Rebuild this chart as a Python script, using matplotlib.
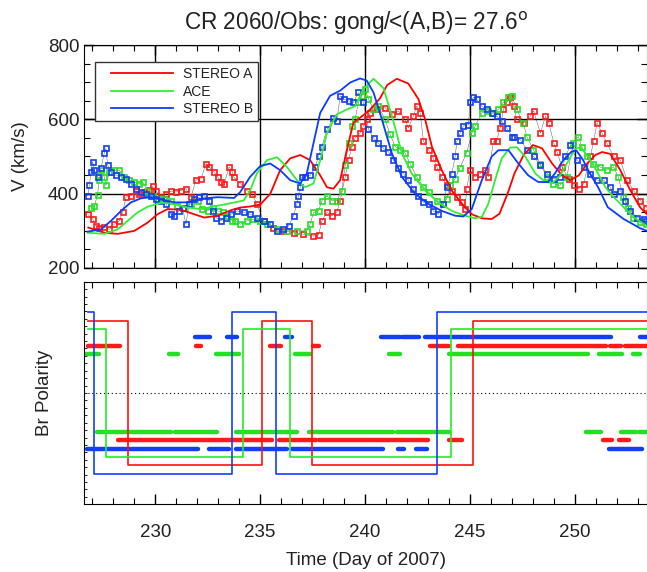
import matplotlib
matplotlib.use("Agg")
import matplotlib.pyplot as plt
from matplotlib.lines import Line2D
from matplotlib.legend_handler import HandlerLine2D
from matplotlib.ticker import MultipleLocator, NullLocator

plt.rcParams['font.family'] = ['Liberation Sans', 'DejaVu Sans']

# ---- top panel: observed solar wind speed (day of 2007, km/s) ----
sta_obs_day = [226.78, 227.02, 227.18, 227.33, 227.57, 227.81, 228.05, 228.29, 228.44, 228.61,
               228.84, 229.08, 229.24, 229.48, 229.72, 229.87, 230.03, 230.27, 230.51, 230.75,
               230.99, 231.22, 231.46, 231.70, 231.94, 232.18, 232.42, 232.57, 232.81, 232.97,
               233.13, 233.29, 233.52, 233.68, 233.73, 234.05, 234.37, 234.61, 234.84, 235.16,
               235.63, 236.11, 236.59, 237.06, 237.54, 237.78, 237.94, 238.18, 238.42, 238.65,
               238.81, 239.05, 239.21, 239.37, 239.52, 239.76, 239.92, 240.08, 240.24, 240.56,
               240.95, 241.27, 241.59, 241.91, 242.06, 242.30, 242.46, 242.62, 242.78, 243.02,
               243.25, 243.41, 243.65, 243.89, 244.13, 244.37, 244.61, 244.76, 244.84, 245.00,
               245.24, 245.48, 245.71, 245.87, 246.11, 246.27, 246.43, 246.59, 246.75, 246.91,
               247.08, 247.22, 247.56, 247.87, 248.03, 248.35, 248.59, 248.75, 248.99, 249.14,
               249.38, 249.70, 249.94, 250.18, 250.41, 250.73, 250.89, 251.05, 251.29, 251.52,
               251.84, 252.16, 252.48, 252.80, 253.11, 253.40]
sta_obs_v = [344, 331, 312, 308, 310, 303, 317, 326, 349, 390,
             394, 408, 399, 404, 410, 419, 408, 390, 399, 406,
             404, 408, 413, 390, 436, 440, 481, 472, 458, 445,
             431, 427, 472, 458, 445, 427, 408, 399, 372, 326,
             308, 299, 294, 290, 285, 288, 326, 349, 340, 349,
             381, 445, 490, 527, 550, 563, 582, 600, 618, 627,
             632, 614, 623, 600, 577, 609, 636, 618, 541, 518,
             495, 472, 445, 422, 408, 390, 376, 358, 413, 463,
             445, 454, 463, 445, 541, 543, 577, 627, 646, 660,
             636, 600, 591, 609, 623, 563, 609, 591, 536, 513,
             472, 440, 422, 413, 427, 500, 541, 591, 563, 536,
             500, 490, 436, 408, 381, 362]

ace_obs_day = [226.94, 227.10, 227.25, 227.33, 227.41, 227.57, 227.65, 227.81, 228.05, 228.29,
               228.52, 228.76, 229.00, 229.24, 229.40, 229.63, 229.87, 230.11, 230.43, 230.75,
               231.06, 231.38, 231.70, 232.02, 232.25, 232.49, 232.73, 232.97, 233.21, 233.44,
               233.68, 233.81, 234.05, 234.37, 234.68, 235.00, 235.32, 235.80, 236.27, 236.75,
               237.22, 237.38, 237.54, 237.78, 237.94, 238.18, 238.42, 238.65, 238.89, 239.05,
               239.21, 239.37, 239.52, 239.68, 239.84, 240.00, 240.16, 240.40, 240.63, 240.95,
               241.19, 241.43, 241.67, 241.91, 242.14, 242.46, 242.78, 243.02, 243.41, 243.73,
               243.89, 244.05, 244.29, 244.52, 244.84, 245.08, 245.24, 245.56, 245.87, 246.11,
               246.35, 246.59, 246.83, 246.99, 247.22, 247.54, 247.70, 248.02, 248.34, 248.65,
               248.97, 249.29, 249.61, 249.92, 250.16, 250.32, 250.56, 250.87, 251.19, 251.51,
               251.83, 252.06, 252.30, 252.54, 252.78, 253.10, 253.40]
ace_obs_v = [362, 367, 396, 436, 463, 445, 422, 458, 463, 463,
             445, 436, 431, 427, 431, 408, 394, 386, 386, 381,
             367, 362, 372, 381, 358, 353, 362, 353, 349, 340,
             326, 326, 317, 326, 331, 326, 317, 303, 299, 299,
             299, 317, 349, 353, 381, 394, 381, 381, 408, 477,
             536, 582, 600, 646, 664, 682, 655, 627, 636, 600,
             560, 527, 518, 509, 481, 445, 417, 404, 381, 372,
             386, 422, 440, 470, 510, 563, 582, 618, 623, 618,
             627, 646, 660, 664, 627, 591, 554, 518, 481, 445,
             427, 422, 445, 536, 554, 527, 500, 481, 472, 463,
             472, 445, 390, 362, 335, 322, 317]

stb_obs_day = [226.78, 226.86, 226.94, 227.02, 227.10, 227.25, 227.41, 227.57, 227.65, 227.73,
               227.89, 228.13, 228.37, 228.61, 228.84, 229.08, 229.32, 229.56, 229.80, 230.03,
               230.27, 230.51, 230.75, 230.91, 231.14, 231.30, 231.46, 231.62, 231.86, 232.10,
               232.33, 232.57, 232.73, 232.89, 233.13, 233.37, 233.61, 233.89, 234.21, 234.52,
               234.84, 235.16, 235.48, 235.80, 236.11, 236.35, 236.59, 236.75, 236.82, 236.91,
               236.99, 237.14, 237.38, 237.62, 237.78, 237.94, 238.18, 238.49, 238.65, 238.81,
               238.97, 239.21, 239.44, 239.68, 239.92, 240.16, 240.40, 240.63, 240.87, 241.11,
               241.35, 241.59, 241.82, 242.06, 242.30, 242.54, 242.78, 243.02, 243.25, 243.49,
               243.73, 243.89, 244.13, 244.29, 244.37, 244.52, 244.68, 244.92, 245.00, 245.16,
               245.32, 245.56, 245.79, 246.03, 246.27, 246.51, 246.75, 246.99, 247.08, 247.40,
               247.72, 248.03, 248.35, 248.67, 248.99, 249.30, 249.54, 249.78, 250.10, 250.41,
               250.73, 251.05, 251.37, 251.68, 251.84, 252.16, 252.40, 252.64, 252.96, 253.27,
               253.40]
stb_obs_v = [394, 422, 458, 486, 463, 445, 468, 509, 522, 477,
             458, 449, 445, 440, 427, 413, 404, 399, 394, 386,
             381, 372, 344, 340, 353, 362, 317, 372, 386, 390,
             394, 381, 353, 335, 326, 335, 344, 353, 349, 344,
             335, 326, 317, 299, 303, 312, 340, 372, 394, 417,
             445, 445, 449, 472, 500, 527, 573, 605, 595, 664,
             655, 650, 646, 673, 646, 573, 550, 536, 522, 513,
             490, 468, 454, 436, 413, 394, 376, 372, 353, 344,
             372, 417, 454, 500, 541, 563, 582, 586, 646, 660,
             655, 636, 627, 618, 609, 595, 577, 554, 554, 545,
             518, 500, 477, 454, 440, 445, 500, 530, 490, 472,
             454, 436, 436, 417, 399, 408, 381, 353, 335, 331,
             326]

# ---- top panel: model speed (lines) ----
sta_mod_day = [226.81, 227.57, 228.21, 229.00, 229.63, 230.11, 230.59, 231.22, 231.86, 232.33,
               232.97, 233.61, 234.05, 234.52, 235.00, 235.48, 235.95, 236.43, 236.91, 237.38,
               237.86, 238.18, 238.49, 238.81, 239.13, 239.44, 239.92, 240.24, 240.72, 241.05,
               241.51, 242.06, 242.54, 242.86, 243.18, 243.65, 244.13, 244.61, 245.08, 245.56,
               246.03, 246.40, 246.79, 247.12, 247.56, 248.00, 248.43, 248.91, 249.38, 249.78,
               250.18, 250.58, 250.97, 251.29, 251.68, 252.16, 252.64, 253.11, 253.43]
sta_mod_v = [308, 294, 291, 299, 321, 344, 358, 356, 344, 335,
             340, 355, 362, 365, 370, 399, 463, 495, 504, 490,
             449, 417, 413, 436, 518, 591, 612, 627, 658, 693,
             710, 697, 655, 600, 527, 463, 408, 372, 344, 333,
             331, 345, 400, 455, 505, 531, 522, 481, 449, 436,
             449, 481, 504, 512, 507, 463, 408, 362, 344]

ace_mod_day = [226.78, 227.57, 228.21, 228.68, 229.16, 229.63, 230.27, 230.91, 231.54, 232.18,
               232.97, 233.61, 234.21, 234.52, 234.84, 235.32, 235.80, 236.27, 236.75, 237.14,
               237.54, 237.86, 238.18, 238.65, 239.13, 239.52, 239.92, 240.40, 240.87, 241.30,
               241.75, 242.22, 242.86, 243.49, 244.13, 244.76, 245.24, 245.56, 245.87, 246.19,
               246.51, 246.91, 247.23, 247.64, 248.11, 248.59, 248.91, 249.30, 249.70, 250.02,
               250.26, 250.58, 250.97, 251.45, 251.84, 252.16, 252.80, 253.43]
ace_mod_v = [294, 291, 303, 326, 349, 364, 375, 372, 362, 358,
             367, 374, 381, 408, 454, 490, 498, 472, 436, 417,
             427, 490, 563, 614, 627, 636, 682, 710, 685, 605,
             509, 454, 408, 376, 353, 340, 333, 337, 372, 436,
             495, 524, 525, 499, 454, 431, 428, 449, 490, 522,
             525, 503, 467, 417, 390, 372, 335, 312]

stb_mod_day = [226.78, 227.41, 227.89, 228.37, 228.84, 229.32, 229.80, 230.27, 230.91, 231.54,
               232.18, 232.97, 233.76, 234.05, 234.52, 235.00, 235.48, 235.95, 236.43, 236.91,
               237.22, 237.54, 237.86, 238.33, 238.81, 239.29, 239.76, 240.08, 240.40, 240.80,
               241.27, 241.75, 242.38, 243.02, 243.65, 244.29, 244.68, 245.08, 245.56, 246.03,
               246.35, 246.83, 247.30, 247.77, 248.25, 248.72, 249.04, 249.44, 249.83, 250.07,
               250.39, 250.71, 251.10, 251.56, 252.32, 253.11, 253.43]
stb_mod_v = [297, 303, 326, 353, 376, 387, 390, 384, 376, 376,
             386, 390, 388, 404, 445, 474, 481, 463, 436, 427,
             454, 536, 618, 664, 678, 700, 711, 705, 673, 600,
             509, 445, 399, 372, 353, 340, 338, 358, 436, 500,
             517, 517, 481, 449, 431, 431, 454, 490, 513, 516,
             490, 454, 417, 363, 331, 306, 299]

# ---- bottom panel: model polarity steps (change days, sign) ----
sta_step_day = [226.81, 228.70, 235.07, 237.45, 245.14, 253.43]
sta_step_pol = [1, -1, 1, -1, 1]
ace_step_day = [226.81, 227.67, 234.16, 236.40, 244.07, 253.43]
ace_step_pol = [1, -1, 1, -1, 1]
stb_step_day = [226.81, 227.10, 233.68, 235.75, 243.43, 253.43]
stb_step_pol = [1, -1, 1, -1, 1]

# ---- bottom panel: observed polarity intervals (start, end) ----
sta_pos = [(226.78, 228.30), (231.92, 232.17), (235.48, 236.00), (237.54, 237.80),
           (243.10, 244.00), (244.44, 251.46), (251.67, 252.19), (252.40, 253.43)]
sta_neg = [(228.22, 235.55), (235.90, 237.68), (237.80, 243.00), (243.98, 244.60),
           (251.33, 251.78), (252.10, 252.57)]
ace_pos = [(226.70, 227.30), (230.67, 231.10), (232.90, 234.00), (236.67, 237.38),
           (241.16, 241.67), (243.98, 250.60), (251.15, 252.26), (252.76, 253.10)]
ace_neg = [(227.22, 230.74), (230.96, 232.95), (233.86, 236.75), (237.34, 241.35),
           (241.50, 244.00), (250.53, 251.22), (252.20, 252.90), (253.06, 253.43)]
stb_pos = [(231.90, 232.60), (233.40, 233.90), (236.20, 236.50), (240.77, 241.67),
           (241.78, 242.55), (242.83, 251.73), (253.10, 253.43)]
stb_neg = [(226.74, 232.02), (232.54, 233.50), (233.84, 236.30), (236.50, 240.87),
           (241.55, 241.87), (242.43, 242.94), (251.63, 253.20)]

red, green, blue = '#ff1a1a', '#22e022', '#1040f0'
text_col = '#222222'

fig = plt.figure(figsize=(6.47, 5.72), dpi=100)
ax1 = fig.add_axes([0.1303, 0.5323, 0.8697, 0.3882])
ax2 = fig.add_axes([0.1303, 0.1184, 0.8697, 0.3891])

# speed panel: observations as open squares joined by a thin black line
for d, v, c in [(sta_obs_day, sta_obs_v, red), (ace_obs_day, ace_obs_v, green),
                (stb_obs_day, stb_obs_v, blue)]:
    ax1.plot(d, v, color='#444444', lw=0.3, zorder=2)
    ax1.plot(d, v, linestyle='none', marker='s', ms=3.6, mfc='none', mec=c, mew=1.2, zorder=3)

ax1.plot(sta_mod_day, sta_mod_v, color='#ff0000', lw=1.3, label='STEREO A', zorder=4)
ax1.plot(ace_mod_day, ace_mod_v, color='#33ee33', lw=1.3, label='ACE', zorder=4)
ax1.plot(stb_mod_day, stb_mod_v, color='#0a3cff', lw=1.3, label='STEREO B', zorder=4)

ax1.set_xlim(226.62, 253.43)
ax1.set_ylim(200, 800)
ax1.xaxis.set_major_locator(MultipleLocator(5))
ax1.xaxis.set_minor_locator(MultipleLocator(1))
ax1.yaxis.set_major_locator(MultipleLocator(200))
ax1.yaxis.set_minor_locator(MultipleLocator(50))
ax1.tick_params(which='both', direction='in', top=True, right=True, colors='black',
                labelcolor=text_col, labelsize=13.5, labelbottom=False)
ax1.tick_params(which='major', length=7, width=1)
ax1.tick_params(which='minor', length=4, width=0.8)
ax1.grid(True, which='major', color='black', lw=1.0)
ax1.set_ylabel('V (km/s)', fontsize=13.5, color=text_col)
ax1.yaxis.set_label_coords(-0.099, 0.5)
leg = ax1.legend(loc='upper left', bbox_to_anchor=(0.019, 0.924), borderaxespad=0,
                 fontsize=10, handlelength=5.25, handletextpad=0.75, labelspacing=0.25,
                 fancybox=False, framealpha=1, edgecolor='#333333', borderpad=0.35,
                 handler_map={Line2D: HandlerLine2D(xpad=0.78)})
leg.get_frame().set_linewidth(1.0)
for t in leg.get_texts():
    t.set_color(text_col)

# polarity panel
levels = {'sta': (0.97, 0.64), 'ace': (0.86, 0.53), 'stb': (1.095, 0.76)}
steps = [('sta', sta_step_day, sta_step_pol, '#ff1010'),
         ('ace', ace_step_day, ace_step_pol, '#22ee22'),
         ('stb', stb_step_day, stb_step_pol, '#1040ff')]
for key, d, p, c in steps:
    lev = levels[key][0]
    ax2.step(d, [s * lev for s in p] + [p[-1] * lev], where='post', color=c, lw=1.2, zorder=3)

for key, pos, neg, c in [('stb', stb_pos, stb_neg, blue), ('sta', sta_pos, sta_neg, red),
                         ('ace', ace_pos, ace_neg, green)]:
    lev = levels[key][1]
    ax2.hlines([lev] * len(pos), [a for a, b in pos], [b for a, b in pos],
               color=c, lw=3.2, capstyle='round', zorder=2)
    ax2.hlines([-lev] * len(neg), [a for a, b in neg], [b for a, b in neg],
               color=c, lw=3.2, capstyle='round', zorder=2)

ax2.axhline(0, color='black', lw=0.8, linestyle=(0, (1, 2.5)))
ax2.set_xlim(226.62, 253.43)
ax2.set_ylim(-1.5, 1.5)
ax2.xaxis.set_major_locator(MultipleLocator(5))
ax2.xaxis.set_minor_locator(MultipleLocator(1))
ax2.yaxis.set_major_locator(NullLocator())
ax2.yaxis.set_minor_locator(MultipleLocator(0.1))
ax2.tick_params(which='both', direction='in', top=True, right=False,
                labelcolor=text_col, labelsize=13.5)
ax2.tick_params(axis='x', which='major', length=7, width=1, pad=14.5)
ax2.tick_params(axis='x', which='minor', length=4, width=0.8)
ax2.tick_params(axis='y', which='minor', length=2.5, width=0.6)
ax2.set_ylabel('Br Polarity', fontsize=13.5, color=text_col)
ax2.yaxis.set_label_coords(-0.055, 0.5)
ax2.set_xlabel('Time (Day of 2007)', fontsize=13.5, color=text_col, labelpad=7.5)

fig.text(0.55, 1 - 23 / 572, 'CR 2060/Obs: gong/<(A,B)= 27.6$^\\mathrm{o}$',
         ha='center', va='center', fontsize=16.3, color=text_col)

fig.savefig('out.png', dpi=100)
